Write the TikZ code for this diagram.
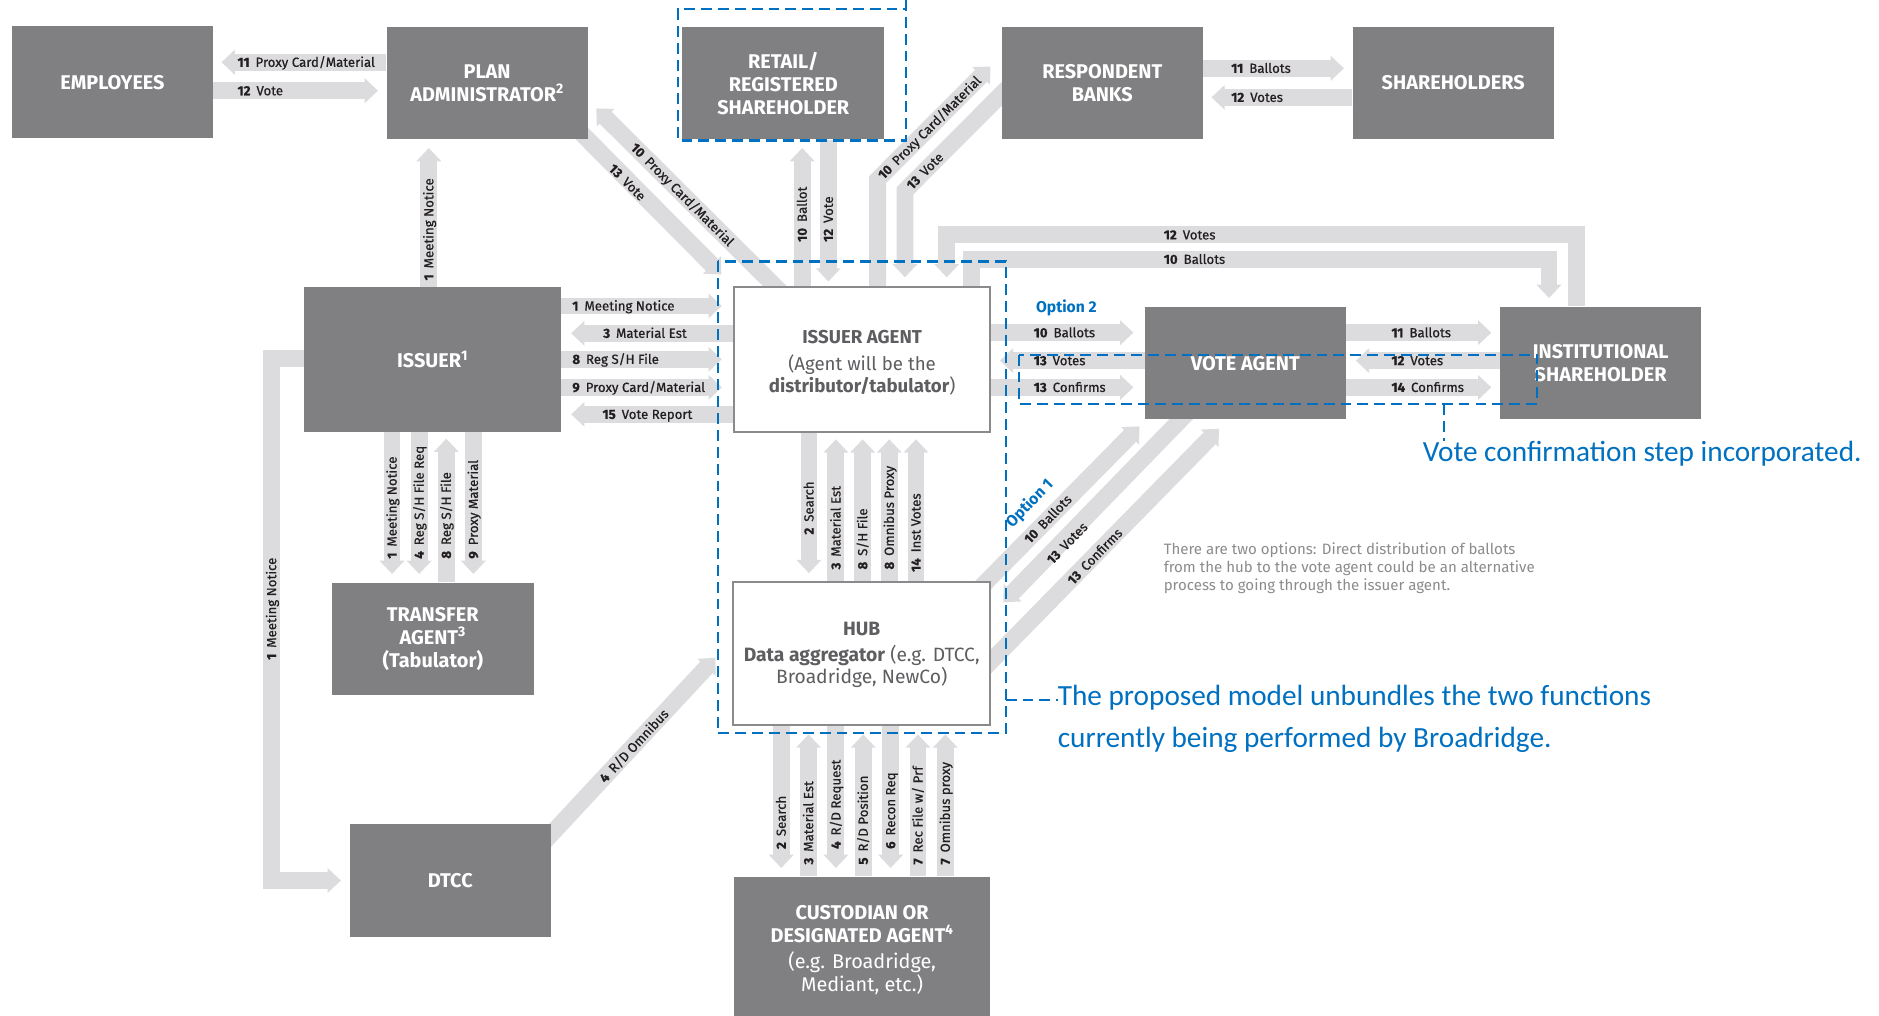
\documentclass[tikz,border=0pt]{standalone}
\usepackage{fontspec}
\setmainfont{Fira Sans}
\newfontfamily\calf{Carlito}
\newfontfamily\lblf{Fira Sans}[FakeBold=0.6]
\usetikzlibrary{arrows.meta}
\definecolor{boxgray}{HTML}{808083}
\definecolor{arrowgray}{HTML}{DCDCDE}
\definecolor{agenttext}{HTML}{5E5E61}
\definecolor{bordergray}{HTML}{8A8A8C}
\definecolor{blueC}{HTML}{0070C0}
\definecolor{lbltext}{HTML}{231F20}
\definecolor{notegray}{HTML}{8C8C8E}
\pgfdeclarelayer{bg}
\pgfsetlayers{bg,main}
\newcommand\flab[2]{\textbf{#1}\hspace{0.45em}#2}
\begin{document}
\begin{tikzpicture}[x=1pt,y=-1pt,
 gbox/.style={fill=boxgray, text=white, font=\bfseries\fontsize{16.5}{19}\selectfont, align=center, inner sep=0pt},
 wbox/.style={fill=white, draw=bordergray, line width=1.5pt, inner sep=0pt},
 flow/.style={draw=arrowgray, line width=14pt, -{Triangle[width=20pt,length=11pt]}, line join=miter, shorten >=7pt},
 flowlbl/.style={font=\lblf\fontsize{11}{13}\selectfont, text=lbltext, inner sep=0pt, text height=7.6pt, text depth=0pt},
 lblh/.style={flowlbl, anchor=west},
 lblv/.style={flowlbl, anchor=west, rotate=90},
 lbld/.style={flowlbl, anchor=center, rotate=#1},
 bdash/.style={draw=blueC, line width=2pt, dash pattern=on 9pt off 5pt},
]
\useasboundingbox (0,0) rectangle (1560,843.5);

% ---------- boxes ----------
\node[gbox, minimum width=166.7pt, minimum height=93.2pt] (emp) at (93.35,68.2) {EMPLOYEES};
\node[gbox, minimum width=166.8pt, minimum height=93pt] (plan) at (404.4,69.2) {PLAN\\ADMINISTRATOR\textsuperscript{2}};
\node[gbox, minimum width=167.8pt, minimum height=93pt] (retail) at (650.3,69.2) {RETAIL/\\REGISTERED\\SHAREHOLDER};
\node[gbox, minimum width=166.9pt, minimum height=93.6pt] (resp) at (915.15,68.9) {RESPONDENT\\BANKS};
\node[gbox, minimum width=167pt, minimum height=93.6pt] (share) at (1206.5,68.9) {SHAREHOLDERS};
\node[gbox, minimum width=212.8pt, minimum height=119.9pt] (issuer) at (359.2,298.45) {ISSUER\textsuperscript{1}};
\node[wbox, minimum width=212.5pt, minimum height=119.9pt] (iagent) at (715.75,298.45) {};
\node[gbox, minimum width=166.7pt, minimum height=92.9pt] (vote) at (1033.95,301.65) {VOTE AGENT};
\node[gbox, minimum width=167.2pt, minimum height=93.3pt] (inst) at (1328.9,301.25) {INSTITUTIONAL\\SHAREHOLDER};
\node[gbox, minimum width=167.4pt, minimum height=93.3pt] (trans) at (359.3,530.35) {TRANSFER\\AGENT\textsuperscript{3}\\(Tabulator)};
\node[wbox, minimum width=213.2pt, minimum height=119pt] (hub) at (715.4,542.5) {};
\node[gbox, minimum width=167.3pt, minimum height=93.8pt] (dtcc) at (373.85,731.3) {DTCC};
\node[gbox, minimum width=212.5pt, minimum height=122.2pt] (cust) at (715.75,788.9) {CUSTODIAN OR\\DESIGNATED AGENT\textsuperscript{4}\\[3pt]\mdseries (e.g. Broadridge,\\\mdseries Mediant, etc.)};

\node[text=agenttext, align=center, inner sep=0pt, font=\fontsize{15.5}{18.5}\selectfont] (iatxt) at (715.75,301.3) {\textbf{ISSUER AGENT}\\[4pt](Agent will be the\\\textbf{distributor/tabulator})};
\node[text=agenttext, align=center, inner sep=0pt, font=\fontsize{16}{18.5}\selectfont] (hubtxt) at (715.4,544) {\textbf{HUB}\\[3pt]\textbf{Data aggregator} (e.g. DTCC,\\Broadridge, NewCo)};

% ---------- arrows ----------
\begin{pgfonlayer}{bg}
\fill[white] (0,0) rectangle (1560,843.5);
% employees / plan administrator
\draw[flow] (plan.west |- 0,51.7) -- (emp.east |- 0,51.7);
\draw[flow] (emp.east |- 0,75.3) -- (plan.west |- 0,75.3);
% respondent banks / shareholders
\draw[flow] (resp.east |- 0,56.7) -- (share.west |- 0,56.7);
\draw[flow] (share.west |- 0,80.8) -- (resp.east |- 0,80.8);
% issuer -> plan administrator
\draw[flow] (issuer.north -| 356,0) -- (plan.south -| 356,0);
% issuer <-> issuer agent
\draw[flow, shorten >=9.5pt] (issuer.east |- 0,254) -- (iagent.west |- 0,254);
\draw[flow, shorten >=8.4pt] (iagent.west |- 0,276.7) -- (issuer.east |- 0,276.7);
\draw[flow, shorten >=9.5pt] (issuer.east |- 0,298.3) -- (iagent.west |- 0,298.3);
\draw[flow, shorten >=9.5pt] (issuer.east |- 0,321.6) -- (iagent.west |- 0,321.6);
\draw[flow, shorten >=8.4pt] (iagent.west |- 0,344) -- (issuer.east |- 0,344);
% issuer <-> transfer agent
\draw[flow] (issuer.south -| 325.5,0) -- (trans.north -| 325.5,0);
\draw[flow] (issuer.south -| 348,0) -- (trans.north -| 348,0);
\draw[flow, shorten >=5.6pt] (trans.north -| 370.5,0) -- (issuer.south -| 370.5,0);
\draw[flow] (issuer.south -| 393,0) -- (trans.north -| 393,0);
% issuer agent <-> hub
\draw[flow, shorten >=6.4pt] (iagent.south -| 671.6,0) -- (hub.north -| 671.6,0);
\draw[flow, shorten >=5.6pt] (hub.north -| 694,0) -- (iagent.south -| 694,0);
\draw[flow, shorten >=5.6pt] (hub.north -| 716.2,0) -- (iagent.south -| 716.2,0);
\draw[flow, shorten >=5.6pt] (hub.north -| 738.3,0) -- (iagent.south -| 738.3,0);
\draw[flow, shorten >=5.6pt] (hub.north -| 760.5,0) -- (iagent.south -| 760.5,0);
% hub <-> custodian
\draw[flow] (hub.south -| 648.6,0) -- (cust.north -| 648.6,0);
\draw[flow] (cust.north -| 671.3,0) -- (hub.south -| 671.3,0);
\draw[flow] (hub.south -| 694,0) -- (cust.north -| 694,0);
\draw[flow] (cust.north -| 716.7,0) -- (hub.south -| 716.7,0);
\draw[flow] (hub.south -| 739.4,0) -- (cust.north -| 739.4,0);
\draw[flow] (cust.north -| 762.1,0) -- (hub.south -| 762.1,0);
\draw[flow] (cust.north -| 784.8,0) -- (hub.south -| 784.8,0);
% retail <-> issuer agent
\draw[flow] (iagent.north -| 666,0) -- (retail.south -| 666,0);
\draw[flow, shorten >=4pt] (retail.south -| 687.7,0) -- (iagent.north -| 687.7,0);
% plan administrator <-> issuer agent
\draw[flow, shorten >=0pt, shorten <=-12pt] (iagent.north -| 643.5,0) -- (495,90);
\draw[flow, shorten >=14pt, shorten <=-10pt] (plan.south east) -- (iagent.north west);
% respondent banks <-> issuer agent
\draw[flow, shorten >=13pt] (iagent.north -| 728.6,0) -- (728.6,149.1) -- (resp.west |- 0,46);
\draw[flow, shorten <=-12pt, shorten >=7.5pt] (resp.west |- 0,78.1) -- (751.3,158.5) -- (iagent.north -| 751.3,0);
% top loop to institutional shareholder
\draw[flow, shorten >=7.5pt] (inst.north -| 1309,0) -- (1309,195) -- (786,195) -- (iagent.north -| 786,0);
\draw[flow] (iagent.north -| 806.5,0) -- (806.5,215.3) -- (1286,215.3) -- (inst.north -| 1286,0);
% issuer -> DTCC loop
\draw[flow] (issuer.west |- 0,297.6) -- (225.5,297.6) -- (225.5,731) -- (dtcc.west |- 0,731);
% DTCC -> hub
\draw[flow, shorten >=0pt] (450,700.8) -- (594,546);
% issuer agent <-> vote agent
\draw[flow, shorten >=9.4pt] (iagent.east |- 0,276.2) -- (vote.west |- 0,276.2);
\draw[flow, shorten >=7.4pt] (vote.west |- 0,299.4) -- (iagent.east |- 0,299.4);
\draw[flow, shorten >=9.4pt] (iagent.east |- 0,321.6) -- (vote.west |- 0,321.6);
% vote agent <-> institutional
\draw[flow] (vote.east |- 0,276.2) -- (inst.west |- 0,276.2);
\draw[flow, shorten >=8.2pt] (inst.west |- 0,299.4) -- (vote.east |- 0,299.4);
\draw[flow] (vote.east |- 0,321.6) -- (inst.west |- 0,321.6);
% hub <-> vote agent (option 1)
\draw[flow, shorten >=0pt] (810,492) -- (946,354);
\draw[flow, shorten >=0pt] (990,338.3) -- (833,500);
\draw[flow, shorten >=0pt] (815,556.9) -- (1012,356);
\end{pgfonlayer}

% ---------- arrow labels ----------
\node[lblh] (l1) at (197,51.7) {\flab{11}{Proxy Card/Material}};
\node[lblh] (l2) at (197,75.3) {\flab{12}{Vote}};
\node[lblh] (l3) at (1022,56.7) {\flab{11}{Ballots}};
\node[lblh] (l4) at (1022,80.8) {\flab{12}{Votes}};
\node[lblv] (l5) at (356,233) {\flab{1}{Meeting Notice}};
\node[lblh] (l6) at (475,254) {\flab{1}{Meeting Notice}};
\node[lblh] (l7) at (500.6,276.7) {\flab{3}{Material Est}};
\node[lblh] (l8) at (475,298.3) {\flab{8}{Reg S/H File}};
\node[lblh] (l9) at (475,321.6) {\flab{9}{Proxy Card/Material}};
\node[lblh] (l10) at (500,344) {\flab{15}{Vote Report}};
\node[lblv] (l11) at (325.5,464) {\flab{1}{Meeting Notice}};
\node[lblv] (l12) at (348,464) {\flab{4}{Reg S/H File Req}};
\node[lblv] (l13) at (370.5,464) {\flab{8}{Reg S/H File}};
\node[lblv] (l14) at (393,464) {\flab{9}{Proxy Material}};
\node[lblv] (l15) at (671.6,444) {\flab{2}{Search}};
\node[lblv] (l16) at (694,473) {\flab{3}{Material Est}};
\node[lblv] (l17) at (716.2,473) {\flab{8}{S/H File}};
\node[lblv] (l18) at (738.3,473) {\flab{8}{Omnibus Proxy}};
\node[lblv] (l19) at (760.5,475) {\flab{14}{Inst Votes}};
\node[lblv] (l20) at (648.6,705) {\flab{2}{Search}};
\node[lblv] (l21) at (671.3,718) {\flab{3}{Material Est}};
\node[lblv] (l22) at (694,705) {\flab{4}{R/D Request}};
\node[lblv] (l23) at (716.7,718) {\flab{5}{R/D Position}};
\node[lblv] (l24) at (739.4,705) {\flab{6}{Recon Req}};
\node[lblv] (l25) at (762.1,718) {\flab{7}{Rec File w/ Prf}};
\node[lblv] (l26) at (784.8,718) {\flab{7}{Omnibus proxy}};
\node[lblv] (l27) at (666,201) {\flab{10}{Ballot}};
\node[lblv] (l28) at (687.7,201) {\flab{12}{Vote}};
\node[lbld=-45] (l29) at (566.5,161.5) {\flab{10}{Proxy Card/Material}};
\node[lbld=-45] (l30) at (520.8,151.4) {\flab{13}{Vote}};
\node[lbld=45] (l31) at (771.7,106) {\flab{10}{Proxy Card/Material}};
\node[lbld=45] (l32) at (767.9,142) {\flab{13}{Vote}};
\node[lblh] (l33) at (966,195) {\flab{12}{Votes}};
\node[lblh] (l34) at (966,215.3) {\flab{10}{Ballots}};
\node[lblv] (l35) at (225.5,548) {\flab{1}{Meeting Notice}};
\node[lbld=47.1] (l36) at (526.4,619.3) {\flab{4}{R/D Omnibus}};
\node[lblh] (l37) at (858,276.2) {\flab{10}{Ballots}};
\node[lblh] (l38) at (858,299.4) {\flab{13}{Votes}};
\node[lblh] (l39) at (858,321.6) {\flab{13}{Confirms}};
\node[lblh] (l40) at (1155,276.2) {\flab{11}{Ballots}};
\node[lblh] (l41) at (1155,299.4) {\flab{12}{Votes}};
\node[lblh] (l42) at (1155,321.6) {\flab{14}{Confirms}};
\node[lbld=45.85] (l43) at (870,431) {\flab{10}{Ballots}};
\node[lbld=45.85] (l44) at (886,451) {\flab{13}{Votes}};
\node[lbld=45.85] (l45) at (909,462) {\flab{13}{Confirms}};

\node[anchor=west, inner sep=0pt, text=blueC, font=\bfseries\fontsize{13}{15}\selectfont] (opt2) at (860,256) {Option 2};
\node[anchor=center, inner sep=0pt, rotate=45.85, text=blueC, font=\bfseries\fontsize{13}{15}\selectfont] (opt1) at (855,418) {Option 1};

% ---------- notes ----------
\node[anchor=west, align=left, text=notegray, inner sep=0pt, font=\fontsize{12.5}{15}\selectfont] (note) at (966,472) {There are two options: Direct distribution of ballots\\from the hub to the vote agent could be an alternative\\process to going through the issuer agent.};
\node[anchor=west, inner sep=0pt, text=blueC, font=\calf\fontsize{24.3}{29}\selectfont] (vcnote) at (1181,377) {Vote confirmation step incorporated.};
\node[anchor=west, align=left, inner sep=0pt, text=blueC, font=\calf\fontsize{24.3}{34.8}\selectfont] (pmnote) at (878,597) {The proposed model unbundles the two functions\\currently being performed by Broadridge.};

% ---------- blue dashed outlines ----------
\draw[bdash] (752,0) -- (752,116.8) -- (563,116.8) -- (563,7.7) -- (752,7.7);
\draw[bdash] (596,217) rectangle (835,608.5);
\draw[bdash] (835,581) -- (pmnote.west |- 0,581);
\draw[bdash] (846,294.5) rectangle (1276,335.5);
\draw[bdash] (1199,335.5) -- (1199,366);
\end{tikzpicture}
\end{document}
